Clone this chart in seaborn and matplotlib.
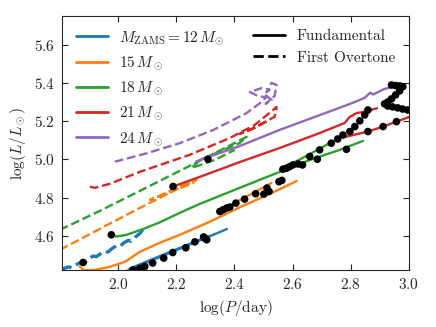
import matplotlib
matplotlib.use("Agg")
import matplotlib.pyplot as plt
from matplotlib.lines import Line2D
import seaborn as sns

# tracks: log P [day] vs log L [Lsun]; F = fundamental, O1 = first overtone
m12_f_logp = [2.02, 2.195, 2.374]
m12_f_logl = [4.41, 4.521, 4.635]
m12_f2_logp = [2.04, 2.31]
m12_f2_logl = [4.428, 4.598]
m12_o1_logp = [1.80, 1.83, 1.84, 1.86, 1.875, 1.885, 1.90, 1.915, 1.925, 1.94, 1.955,
               1.965, 1.98, 1.995, 2.005, 2.02, 2.035, 2.045, 2.06, 2.075, 2.085]
m12_o1_logl = [4.420, 4.437, 4.432, 4.452, 4.462, 4.457, 4.482, 4.494, 4.490, 4.506, 4.520,
               4.514, 4.534, 4.548, 4.543, 4.563, 4.576, 4.571, 4.594, 4.612, 4.632]

m15_f_logp = [1.868, 1.882, 1.920, 1.971, 2.023, 2.075, 2.143, 2.212, 2.315, 2.418, 2.521, 2.614]
m15_f_logl = [4.439, 4.419, 4.421, 4.437, 4.463, 4.516, 4.563, 4.605, 4.673, 4.749, 4.819, 4.887]
m15_f2_logp = [2.343, 2.435, 2.527]
m15_f2_logl = [4.727, 4.800, 4.876]
m15_o1_logp = [1.80, 1.937, 2.075, 2.143, 2.195, 2.270, 2.212, 2.143, 2.109, 2.150, 2.262]
m15_o1_logl = [4.526, 4.636, 4.746, 4.798, 4.840, 4.893, 4.861, 4.809, 4.788, 4.812, 4.878]

m18_f_logp = [1.977, 1.995, 2.029, 2.086, 2.143, 2.212, 2.281, 2.418, 2.556, 2.659, 2.762, 2.842]
m18_f_logl = [4.605, 4.596, 4.605, 4.635, 4.670, 4.720, 4.767, 4.851, 4.935, 4.997, 5.050, 5.097]
m18_f2_logp = [2.556, 2.641, 2.737]
m18_f2_logl = [4.945, 5.013, 5.093]
m18_o1_logp = [1.80, 1.937, 2.075, 2.246, 2.442, 2.418, 2.281, 2.253, 2.332, 2.401]
m18_o1_logl = [4.631, 4.730, 4.835, 4.966, 5.118, 5.086, 4.997, 4.955, 4.997, 5.050]

m21_f_logp = [2.189, 2.298, 2.418, 2.556, 2.693, 2.779, 2.796, 2.820, 2.841, 2.890]
m21_f_logl = [4.858, 4.918, 4.986, 5.060, 5.138, 5.191, 5.222, 5.243, 5.248, 5.268]
m21_f2_logp = [2.773, 2.859, 2.911, 2.957, 3.0]
m21_f2_logl = [5.115, 5.146, 5.172, 5.198, 5.222]
m21_o1_logp = [1.903, 1.920, 1.971, 2.075, 2.246, 2.384, 2.470, 2.521, 2.545, 2.538,
               2.452, 2.418, 2.470, 2.514]
m21_o1_logl = [4.857, 4.851, 4.872, 4.935, 5.024, 5.112, 5.181, 5.244, 5.275, 5.223,
               5.154, 5.134, 5.165, 5.202]

m24_f_logp = [2.269, 2.418, 2.556, 2.693, 2.796, 2.847, 2.867, 2.877, 2.915, 2.960]
m24_f_logl = [4.990, 5.070, 5.155, 5.232, 5.290, 5.322, 5.350, 5.340, 5.369, 5.385]
m24_o1_logp = [1.989, 2.098, 2.212, 2.327, 2.441, 2.487, 2.509, 2.481, 2.453, 2.494, 2.521,
               2.501, 2.528, 2.507, 2.538, 2.545, 2.527, 2.514]
m24_o1_logl = [4.988, 5.032, 5.085, 5.154, 5.242, 5.294, 5.325, 5.332, 5.353, 5.374, 5.364,
               5.343, 5.312, 5.291, 5.332, 5.390, 5.401, 5.354]

# black markers along the tracks
dot_logp = [1.880, 1.977, 2.189, 2.309,
            2.051, 2.075, 2.092, 2.119, 2.157, 2.188, 2.233, 2.264, 2.294, 2.305, 2.298,
            2.350, 2.361, 2.373, 2.384, 2.405, 2.435, 2.473, 2.501, 2.512, 2.519, 2.553, 2.563,
            2.567, 2.579, 2.590, 2.601, 2.619, 2.634, 2.659, 2.685, 2.693, 2.733, 2.785,
            2.755, 2.773, 2.797, 2.814, 2.831, 2.848, 2.859,
            2.859, 2.911, 2.957,
            2.940, 2.954, 2.968, 2.979, 2.968, 2.954, 2.940, 2.927, 2.916,
            2.927, 2.944, 2.961, 2.978, 2.995]
dot_logl = [4.460, 4.605, 4.858, 5.001,
            4.421, 4.429, 4.439, 4.457, 4.483, 4.512, 4.537, 4.568, 4.594, 4.579, 4.587,
            4.727, 4.736, 4.745, 4.750, 4.771, 4.792, 4.820, 4.818, 4.850, 4.832, 4.883, 4.890,
            4.949, 4.954, 4.962, 4.971, 4.976, 4.971, 5.015, 5.001, 5.050, 5.085, 5.053,
            5.107, 5.128, 5.146, 5.172, 5.202, 5.233, 5.259,
            5.146, 5.172, 5.198,
            5.390, 5.387, 5.385, 5.381, 5.359, 5.338, 5.317, 5.301, 5.291,
            5.280, 5.275, 5.270, 5.264, 5.259]

masses = ["12", "15", "18", "21", "24"]
colors = ["#1f77b4", "#ff7f0e", "#2ca02c", "#d62728", "#9467bd"]

sns.set_style("ticks")
plt.rcParams["font.family"] = "serif"
plt.rcParams["font.serif"] = ["cmr10"]
plt.rcParams["mathtext.fontset"] = "cm"
plt.rcParams["axes.formatter.use_mathtext"] = True
plt.rcParams["font.size"] = 11

fig = plt.figure(figsize=(4.36, 3.27), dpi=100)
ax = fig.add_axes([0.142, 0.174, 0.796, 0.778])

tracks = [
    (m12_f_logp, m12_f_logl, m12_f2_logp, m12_f2_logl, m12_o1_logp, m12_o1_logl),
    (m15_f_logp, m15_f_logl, m15_f2_logp, m15_f2_logl, m15_o1_logp, m15_o1_logl),
    (m18_f_logp, m18_f_logl, m18_f2_logp, m18_f2_logl, m18_o1_logp, m18_o1_logl),
    (m21_f_logp, m21_f_logl, m21_f2_logp, m21_f2_logl, m21_o1_logp, m21_o1_logl),
    (m24_f_logp, m24_f_logl, None, None, m24_o1_logp, m24_o1_logl),
]

for i, ((fp, fl, f2p, f2l, op, ol), c) in enumerate(zip(tracks, colors)):
    sns.lineplot(x=op, y=ol, sort=False, estimator=None, color=c,
                 lw=2.4 if i == 0 else 1.7, linestyle="--", ax=ax)
    sns.lineplot(x=fp, y=fl, sort=False, estimator=None, color=c, lw=1.7, ax=ax)
    if f2p is not None:
        sns.lineplot(x=f2p, y=f2l, sort=False, estimator=None, color=c, lw=1.7, ax=ax)

sns.scatterplot(x=dot_logp, y=dot_logl, color="black", s=30, edgecolor="none",
                zorder=5, ax=ax)

ax.set_xlim(1.807, 3.0)
ax.set_ylim(4.42, 5.753)
ax.set_xticks([2.0, 2.2, 2.4, 2.6, 2.8, 3.0])
ax.set_yticks([4.6, 4.8, 5.0, 5.2, 5.4, 5.6])
ax.tick_params(direction="in", top=True, right=True, length=4, width=0.8, pad=5)
ax.set_xlabel(r"$\log(P/{\rm day})$")
ax.set_ylabel(r"$\log(L/L_\odot)$")

mass_handles = [Line2D([], [], color=c, lw=2) for c in colors]
mass_labels = [r"$M_{\rm ZAMS} = 12\,M_{\odot}$"] + [rf"${m}\,M_\odot$" for m in masses[1:]]
leg1 = ax.legend(mass_handles, mass_labels, loc="upper left", frameon=False,
                 handlelength=2.1, handletextpad=0.75, borderaxespad=0.5)
ax.add_artist(leg1)
mode_handles = [Line2D([], [], color="black", lw=2),
                Line2D([], [], color="black", lw=2, linestyle="--")]
ax.legend(mode_handles, ["Fundamental", "First Overtone"], loc="upper right",
          frameon=False, handlelength=2.1, handletextpad=0.75, borderaxespad=0.5)

fig.savefig("out.png", dpi=100)
